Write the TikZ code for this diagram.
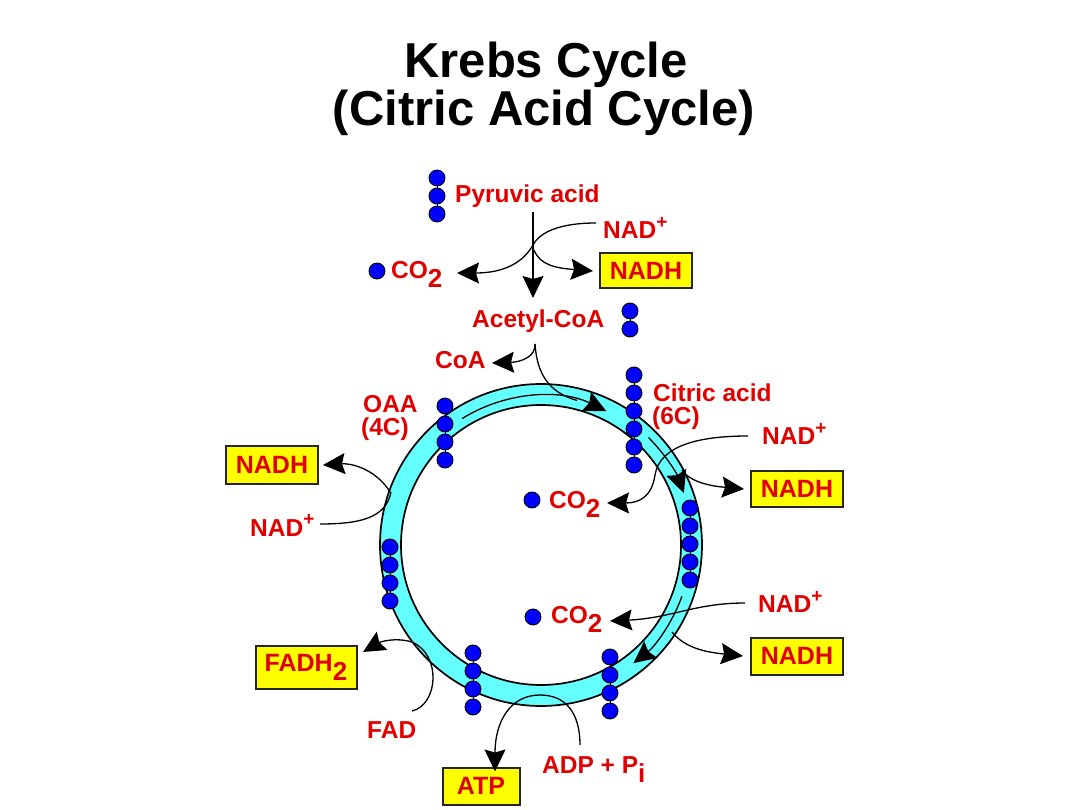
\documentclass[tikz,border=0pt]{standalone}
\usepackage{fontspec}
\setmainfont{Liberation Sans}
\usetikzlibrary{arrows.meta}
\definecolor{kred}{RGB}{225,0,0}
\definecolor{kcyan}{RGB}{100,255,255}
\definecolor{kblue}{RGB}{0,0,255}
\definecolor{kyellow}{RGB}{255,255,0}
\newcommand\dotchain[4]{% name, x, y0, count
  \foreach \k in {1,...,#4}{\node[atom] (#1\k) at (#2,{#3+18*(\k-1)}) {};}
  \foreach \k in {2,...,#4}{\pgfmathtruncatemacro\kprev{\k-1}\draw[line width=1pt] (#1\kprev) -- (#1\k);}
}
\newcommand\sub[1]{\raisebox{-9pt}{\fontsize{26}{26}\selectfont #1}}
\newcommand\plus{\raisebox{10pt}{\fontsize{19}{19}\selectfont +}}
\begin{document}
\begin{tikzpicture}[x=1pt,y=-1pt,
  lbl/.style={text=kred, font=\fontsize{24.5}{26}\selectfont\bfseries, inner sep=0pt, anchor=base west},
  ttl/.style={font=\fontsize{49}{52}\selectfont\bfseries, inner sep=0pt, anchor=base},
  box/.style={draw=black!85, line width=2pt, fill=kyellow, text=kred, font=\fontsize{25}{26}\selectfont\bfseries, minimum width=92pt, minimum height=35pt, inner sep=0pt},
  conn/.style={line width=1.3pt, draw=black},
  arr/.style={conn, -{Stealth[length=22pt, width=21pt, inset=3pt]}},
  atom/.style={circle, fill=kblue, draw=black, line width=0.9pt, minimum size=16pt, inner sep=0pt},
]
\useasboundingbox (0,0) rectangle (1080,810);
\fill[white] (0,0) rectangle (1080,810);

% title
\node[ttl] (t1) at (546,78) {Krebs Cycle};
\node[ttl] (t2) at (544,126) {(Citric Acid Cycle)};

% ring
\coordinate (c) at (541,545);
\fill[kcyan, even odd rule] (c) circle[radius=161] (c) circle[radius=140];
\draw[line width=1.7pt] (c) circle[radius=161];
\draw[line width=1.7pt] (c) circle[radius=140];

% inner ring arrows
\draw[arr] ([shift={(-122:149)}]c) arc[start angle=-122, end angle=-64, radius=149];
\draw[arr] ([shift={(-45:152)}]c) arc[start angle=-45, end angle=-20, radius=152];
\draw[arr] ([shift={(20:150)}]c) arc[start angle=20, end angle=52, radius=150];

% labels
\node[lbl] (pyr) at (455,203) {Pyruvic acid};
\node[lbl] (nad1) at (603,239) {NAD\plus};
\node[box] (nadh1) at (646,271) {NADH};
\node[atom] (co2a) at (377,271) {};
\node[lbl] (co2at) at (391,279) {CO\sub{2}};
\node[lbl] (acetyl) at (472,328) {Acetyl-CoA};
\node[lbl] (coa) at (435,369) {CoA};
\node[lbl] (oaa) at (363,413) {OAA};
\node[lbl] (oaa4) at (361,436) {(4C)};
\node[lbl] (cit) at (653,402) {Citric acid};
\node[lbl] (cit6) at (652,425) {(6C)};
\node[lbl] (nad2) at (762,445) {NAD\plus};
\node[box] (nadh2) at (797,489) {NADH};
\node[atom] (co2b) at (532,500) {};
\node[lbl] (co2bt) at (549,508) {CO\sub{2}};
\node[lbl] (nad3) at (758,612) {NAD\plus};
\node[box, minimum height=37pt] (nadh3) at (797,656) {NADH};
\node[atom] (co2c) at (533,617) {};
\node[lbl] (co2ct) at (551,623) {CO\sub{2}};
\node[lbl] (adp) at (542,773) {ADP + P\sub{i}};
\node[box, minimum width=77pt, minimum height=37pt] (atp) at (481,786) {ATP};
\node[lbl] (fad) at (367,738) {FAD};
\node[box, minimum width=101pt, minimum height=43pt] (fadh) at (306,667) {FADH\sub{2}};
\node[box, minimum height=37pt] (nadh4) at (272,465) {NADH};
\node[lbl] (nad4) at (250,536) {NAD\plus};

% carbon chains
\dotchain{pd}{437}{178}{3}
\dotchain{ad}{630}{311}{2}
\dotchain{od}{445}{406}{4}
\dotchain{cd}{634}{375}{6}
\dotchain{rd}{690}{508}{5}
\dotchain{brd}{610}{657}{4}
\dotchain{bld}{473}{653}{4}
\dotchain{ld}{390}{547}{4}

% top: pyruvic -> acetyl-CoA
\coordinate (pyrout) at (533,212);
\coordinate (acin) at (533,298);
\coordinate (j1) at (533,245);
\draw[arr] (pyrout) -- (acin);
\draw[arr] ([xshift=-7pt]nad1.west |- 0,223) .. controls (560,223) and (540,232) .. (j1) .. controls (520,268) and (495,273) .. (457,273);
\draw[arr] (534,250) .. controls (540,265) and (555,268) .. ([xshift=-6pt]nadh1.west);

% acetyl-CoA into cycle
\coordinate (j2) at (535,344);
\coordinate (arcjoin) at ([shift={(-76:149)}]c);
\draw[arr] (j2) .. controls (536,356) and (522,362) .. (492,363);
\draw[conn] (j2) .. controls (537,375) and (550,393) .. (arcjoin);

% right upper
\draw[arr] (748,436) .. controls (700,436) and (660,445) .. (655,475) .. controls (652,496) and (640,503) .. (607,503);
\draw[arr] (682,470) .. controls (690,482) and (710,486) .. ([xshift=-6pt]nadh2.west);

% right lower
\draw[arr] (745,603) .. controls (695,603) and (672,618) .. (610,621);
\draw[arr] (672,632) .. controls (685,648) and (705,652) .. ([xshift=-7pt]nadh3.west);

% left
\draw[arr] (390,492) .. controls (378,472) and (355,463) .. ([xshift=4pt]nadh4.east);
\draw[conn] (320,524) .. controls (360,524) and (386,518) .. (391,492);

% FAD
\draw[arr] (412,711) .. controls (438,705) and (442,655) .. (412,642) .. controls (395,637) and (380,642) .. (363,652);

% ATP
\coordinate (hump) at (540,695);
\draw[arr] (hump) .. controls (510,695) and (495,722) .. ([yshift=-5pt]atp.north -| 495,0);
\draw[conn] (580,745) .. controls (580,712) and (565,695) .. (hump);
\end{tikzpicture}
\end{document}
